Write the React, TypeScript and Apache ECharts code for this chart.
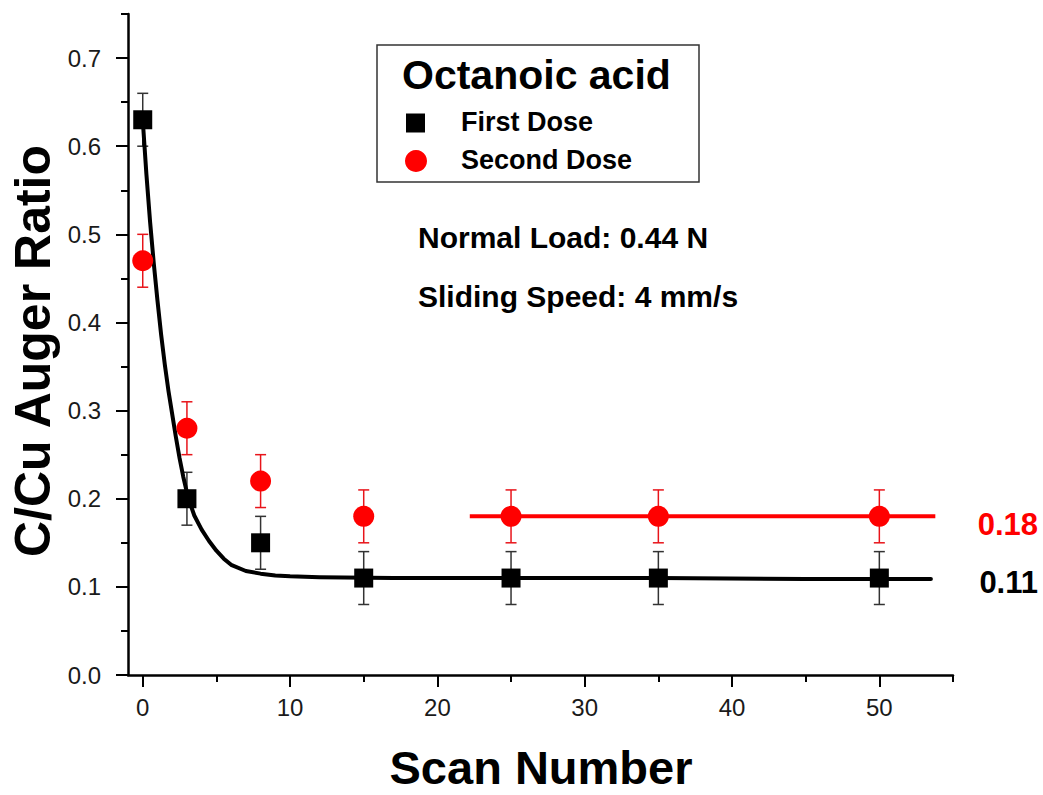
import React, { useEffect, useRef } from "react";
import * as echarts from "echarts";

const scanNumbers = [0, 3, 8, 15, 25, 35, 50];
const firstDose = [0.63, 0.2, 0.15, 0.11, 0.11, 0.11, 0.11];
const firstErr = [0.03, 0.03, 0.03, 0.03, 0.03, 0.03, 0.03];
const secondDose = [0.47, 0.28, 0.22, 0.18, 0.18, 0.18, 0.18];
const secondErr = [0.03, 0.03, 0.03, 0.03, 0.03, 0.03, 0.03];

const fitFirstX = [0, 0.25, 0.5, 0.75, 1, 1.25, 1.5, 1.75, 2, 2.25, 2.5, 2.75, 3, 3.25, 3.5, 4, 4.5, 5, 5.5, 6, 7, 8, 9, 10, 12, 17, 25, 35, 45, 53.5];
const fitFirstY = [0.63, 0.568, 0.514, 0.467, 0.425, 0.386, 0.352, 0.322, 0.296, 0.27, 0.246, 0.225, 0.207, 0.193, 0.181, 0.165, 0.152, 0.141, 0.132, 0.125, 0.118, 0.115, 0.113, 0.112, 0.111, 0.11, 0.11, 0.11, 0.109, 0.109];
const fitSecondX = [22.2, 53.8];
const fitSecondY = [0.18, 0.18];

const xMajorTicks = [0, 10, 20, 30, 40, 50];
const xMinorTicks = [5, 15, 25, 35, 45, 55];
const yMajorTicks = [0, 0.1, 0.2, 0.3, 0.4, 0.5, 0.6, 0.7];
const yMinorTicks = [0.05, 0.15, 0.25, 0.35, 0.45, 0.55, 0.65, 0.75];

const FONT = "'Liberation Sans', Arial, sans-serif";

function errorSeries(values: number[], errs: number[], color: string) {
  const data = scanNumbers.map((x, i) => [x, values[i] - errs[i], values[i] + errs[i]]);
  return {
    type: "custom",
    z: 1,
    data,
    renderItem: (params: any, api: any) => {
      const x = api.value(0);
      const lo = api.coord([x, api.value(1)]);
      const hi = api.coord([x, api.value(2)]);
      const hw = 5.5;
      const style = { stroke: color, lineWidth: 1.5 };
      return {
        type: "group",
        children: [
          { type: "line", shape: { x1: lo[0], y1: lo[1], x2: hi[0], y2: hi[1] }, style },
          { type: "line", shape: { x1: lo[0] - hw, y1: lo[1], x2: lo[0] + hw, y2: lo[1] }, style },
          { type: "line", shape: { x1: hi[0] - hw, y1: hi[1], x2: hi[0] + hw, y2: hi[1] }, style },
        ],
      };
    },
  };
}

export default function App() {
  const ref = useRef<HTMLDivElement>(null);
  useEffect(() => {
    document.body.style.margin = "0";
    const chart = echarts.init(ref.current!, null, { renderer: "svg" });
    const axisLineStyle = { color: "#000", width: 2.5 };
    chart.setOption({
      animation: false,
      backgroundColor: "#fff",
      grid: { left: 128, right: 90, top: 14, bottom: 120, containLabel: false },
      xAxis: [
        {
          type: "value",
          min: -1,
          max: 55,
          position: "bottom",
          splitLine: { show: false },
          axisLine: { show: true, onZero: false, lineStyle: axisLineStyle },
          axisTick: { show: true, inside: false, length: 12, customValues: xMajorTicks, lineStyle: { width: 2, color: "#000" } },
          axisLabel: { customValues: xMajorTicks, margin: 20, fontSize: 24, color: "#1a1a1a", fontFamily: FONT },
        },
        {
          type: "value",
          min: -1,
          max: 55,
          position: "bottom",
          splitLine: { show: false },
          axisLine: { show: false, onZero: false },
          axisTick: { show: true, inside: false, length: 7, customValues: xMinorTicks, lineStyle: { width: 2, color: "#000" } },
          axisLabel: { show: false },
        },
      ],
      yAxis: [
        {
          type: "value",
          min: 0,
          max: 0.75,
          position: "left",
          splitLine: { show: false },
          axisLine: { show: true, onZero: false, lineStyle: axisLineStyle },
          axisTick: { show: true, inside: false, length: 12, customValues: yMajorTicks, lineStyle: { width: 2, color: "#000" } },
          axisLabel: {
            customValues: yMajorTicks,
            margin: 27,
            fontSize: 24,
            color: "#1a1a1a",
            fontFamily: FONT,
            formatter: (v: number) => v.toFixed(1),
          },
        },
        {
          type: "value",
          min: 0,
          max: 0.75,
          position: "left",
          splitLine: { show: false },
          axisLine: { show: false, onZero: false },
          axisTick: { show: true, inside: false, length: 7, customValues: yMinorTicks, lineStyle: { width: 2, color: "#000" } },
          axisLabel: { show: false },
        },
      ],
      series: [
        errorSeries(firstDose, firstErr, "#333"),
        errorSeries(secondDose, secondErr, "#e8141a"),
        {
          type: "line",
          z: 2,
          data: fitFirstX.map((x, i) => [x, fitFirstY[i]]),
          smooth: false,
          showSymbol: false,
          symbol: "none",
          lineStyle: { color: "#000", width: 4, join: "round", cap: "round" },
        },
        {
          type: "line",
          z: 2,
          data: fitSecondX.map((x, i) => [x, fitSecondY[i]]),
          showSymbol: false,
          symbol: "none",
          lineStyle: { color: "#ff0000", width: 4 },
        },
        {
          type: "scatter",
          name: "First Dose",
          z: 3,
          symbol: "rect",
          symbolSize: 19,
          itemStyle: { color: "#000", opacity: 1 },
          data: scanNumbers.map((x, i) => [x, firstDose[i]]),
        },
        {
          type: "scatter",
          name: "Second Dose",
          z: 3,
          symbol: "circle",
          symbolSize: 21,
          itemStyle: { color: "#ff0000", opacity: 1 },
          data: scanNumbers.map((x, i) => [x, secondDose[i]]),
        },
      ],
      graphic: [
        {
          type: "rect",
          shape: { x: 377, y: 45, width: 322, height: 137 },
          style: { fill: "#fff", stroke: "#333", lineWidth: 1.5 },
          z: 10,
        },
        {
          type: "text",
          x: 402,
          y: 75,
          z: 11,
          style: { text: "Octanoic acid", font: `bold 41px ${FONT}`, fill: "#000", align: "left", verticalAlign: "middle" },
        },
        {
          type: "rect",
          shape: { x: 406, y: 113.5, width: 19, height: 19 },
          style: { fill: "#000" },
          z: 11,
        },
        {
          type: "text",
          x: 461,
          y: 122,
          z: 11,
          style: { text: "First Dose", font: `bold 27px ${FONT}`, fill: "#000", align: "left", verticalAlign: "middle" },
        },
        {
          type: "circle",
          shape: { cx: 416, cy: 161, r: 11 },
          style: { fill: "#ff0000" },
          z: 11,
        },
        {
          type: "text",
          x: 461,
          y: 160,
          z: 11,
          style: { text: "Second Dose", font: `bold 27px ${FONT}`, fill: "#000", align: "left", verticalAlign: "middle" },
        },
        {
          type: "text",
          x: 418,
          y: 237,
          z: 11,
          style: { text: "Normal Load: 0.44 N", font: `bold 30px ${FONT}`, fill: "#000", align: "left", verticalAlign: "middle" },
        },
        {
          type: "text",
          x: 418,
          y: 296.5,
          z: 11,
          style: { text: "Sliding Speed: 4 mm/s", font: `bold 30px ${FONT}`, fill: "#000", align: "left", verticalAlign: "middle" },
        },
        {
          type: "text",
          x: 1038,
          y: 524,
          z: 11,
          style: { text: "0.18", font: `bold 31px ${FONT}`, fill: "#ff0000", align: "right", verticalAlign: "middle" },
        },
        {
          type: "text",
          x: 1038,
          y: 582,
          z: 11,
          style: { text: "0.11", font: `bold 31px ${FONT}`, fill: "#000", align: "right", verticalAlign: "middle" },
        },
        {
          type: "text",
          x: 541,
          y: 767,
          z: 11,
          style: { text: "Scan Number", font: `bold 47px ${FONT}`, fill: "#000", align: "center", verticalAlign: "middle" },
        },
        {
          type: "text",
          x: 32.5,
          y: 351,
          rotation: Math.PI / 2,
          z: 11,
          style: { text: "C/Cu Auger Ratio", font: `bold 50px ${FONT}`, fill: "#000", align: "center", verticalAlign: "middle" },
        },
      ],
    });
    return () => chart.dispose();
  }, []);
  return <div ref={ref} style={{ width: 1043, height: 795 }} />;
}
